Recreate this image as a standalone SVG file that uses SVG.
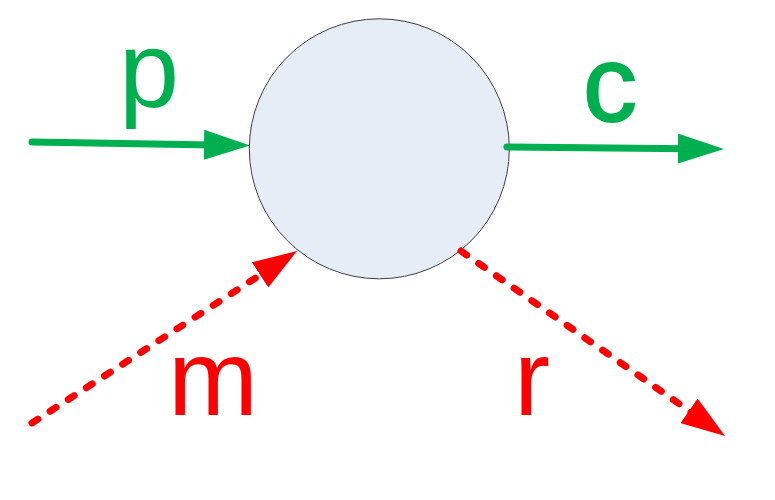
<svg xmlns="http://www.w3.org/2000/svg" width="775" height="500" viewBox="0 0 775 500">
  <style>
    .g { stroke: #00B050; stroke-width: 7; stroke-linecap: round; fill: none; }
    .r { stroke: #FF0000; stroke-width: 7; stroke-linecap: round; stroke-dasharray: 7 14.6; fill: none; }
    .lbl { font-family: "Liberation Sans", Arial, sans-serif; font-size: 108px; text-anchor: middle; }
    .lg { fill: #00B050; }
    .lr { fill: #FF0000; }
  </style>
  <defs>
    <marker id="ag" viewBox="0 -15 46 30" markerWidth="46" markerHeight="30" refX="10" refY="0" orient="auto" markerUnits="userSpaceOnUse">
      <path d="M0,-15 L46,0 L0,15 z" fill="#00B050"/>
    </marker>
    <marker id="ar" viewBox="0 -15 44 30" markerWidth="44" markerHeight="30" refX="10" refY="0" orient="auto" markerUnits="userSpaceOnUse">
      <path d="M0,-15 L44,0 L0,15 z" fill="#FF0000"/>
    </marker>
  </defs>
  <rect width="775" height="500" fill="#FFFFFF"/>
  <g id="node">
    <circle cx="379.3" cy="148.8" r="130" fill="#E6EDF7" stroke="#404040" stroke-width="1"/>
  </g>
  <g id="connectors">
    <line class="g" x1="32" y1="142" x2="214" y2="144.9" marker-end="url(#ag)"/>
    <line class="g" x1="507" y1="147" x2="688" y2="148.7" marker-end="url(#ag)"/>
    <line class="r" x1="32" y1="423" x2="268.5" y2="269.5" marker-end="url(#ar)"/>
    <line class="r" x1="461" y1="251" x2="697.2" y2="416.5" marker-end="url(#ar)"/>
  </g>
  <g id="labels">
    <text class="lbl lg" x="149" y="107">p</text>
    <text class="lbl lg" x="610" y="121" stroke="#00B050" stroke-width="2">c</text>
    <text class="lbl lr" x="213" y="415">m</text>
    <text class="lbl lr" x="532" y="415">r</text>
  </g>
</svg>
